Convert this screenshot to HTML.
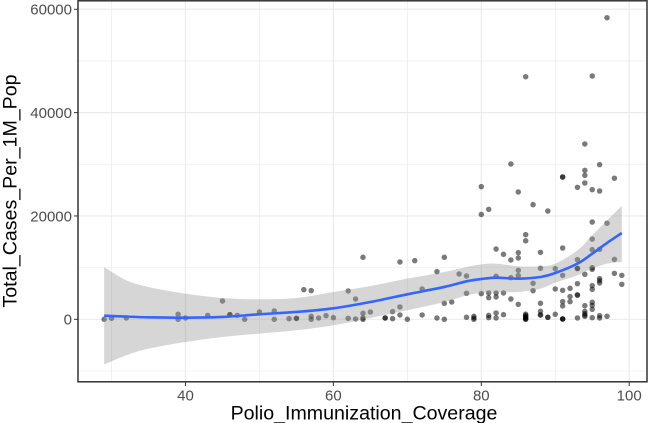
<!DOCTYPE html>
<html lang="en">
<head>
<meta charset="utf-8">
<title>Polio immunization coverage vs total cases</title>
<style>
html,body{margin:0;padding:0;background:#fff;width:648px;height:423px;overflow:hidden}
svg{display:block;font-family:"Liberation Sans",Arial,sans-serif}
</style>
</head>
<body>
<svg id="chart" width="648" height="423" viewBox="0 0 648 423" xmlns="http://www.w3.org/2000/svg">
  <g id="grid"></g>
  <g id="points"></g>
  <g id="smooth"></g>
  <rect x="78" y="0.8" width="569" height="381" fill="none" stroke="#333" stroke-width="1.5"/>
  <g id="axes"></g>
  <text x="364" y="419.5" font-size="19.6" text-anchor="middle" fill="#000">Polio_Immunization_Coverage</text>
  <text transform="translate(16.5,191) rotate(-90)" font-size="19.6" text-anchor="middle" fill="#000">Total_Cases_Per_1M_Pop</text>
</svg>
<script>
const xTickLabels = [40, 60, 80, 100];
const yTickLabels = [0, 20000, 40000, 60000];
const xMinorTicks = [30, 50, 70, 90];
const yMinorTicks = [-10000, 10000, 30000, 50000];

const pointX = [29,30,32,39,39,40,43,45,46,46,47,48,50,52,52,54,55,55,56,57,57,57,58,59,60,62,62,63,63,64,64,64,64,65,67,67,68,68,69,69,69,70,71,72,72,74,74,75,75,75,76,77,78,78,78,79,79,79,80,80,80,81,81,81,81,81,82,82,82,82,82,82,83,83,83,84,84,84,84,85,85,85,85,85,85,86,86,86,86,86,86,86,86,86,86,86,87,87,87,88,88,88,88,88,88,89,89,89,90,90,90,91,91,91,91,91,91,91,91,91,91,92,92,92,93,93,93,93,93,93,93,93,94,94,94,94,94,94,94,94,94,94,95,95,95,95,95,95,95,95,95,95,95,95,95,96,96,96,96,96,96,96,96,97,97,97,98,98,98,99,99];
const pointY = [0,190,260,970,0,260,770,3550,900,900,770,0,1420,1610,0,130,190,190,5740,5550,580,0,260,700,320,5480,190,3930,60,12000,1160,260,0,1420,260,260,1480,130,11100,2390,840,0,11350,5870,840,9220,260,12000,3100,0,3350,8770,8380,5030,390,580,260,0,20300,25670,4970,21280,5100,4190,770,320,13600,8320,5100,4320,1220,260,12580,5100,900,30060,11480,8060,3930,24640,12900,11870,9480,8450,2900,46950,16380,15200,1000,800,600,450,300,150,60,0,22190,6970,5550,12960,9870,3100,1550,840,840,20960,390,390,9800,5870,970,27540,27540,13800,8510,5600,3420,2580,60,60,60,6000,4390,3420,25540,11550,9870,9800,6900,4700,4700,260,33930,28830,27860,26380,8700,2640,1550,1100,800,580,47085,25090,18830,15540,13480,10000,9670,6510,5800,3290,2700,1935,320,29930,24830,13540,7870,7480,7030,700,260,58370,18600,580,27300,11600,8900,8510,6770];

const fitX = [29,32,35,40,45,50,55,60,65,70,75,78,80,82,85,88,90,93,95,97,99];
const fitY = [700,520,390,320,450,970,1420,2130,3350,4840,6260,7350,7800,8060,7870,8190,8960,10770,12700,14770,16700];
const ciUpper = [10130,7550,6260,4970,4130,3870,4130,5290,6450,7870,9160,10130,10640,10770,10250,10250,10770,13350,16250,19150,21930];
const ciLower = [-8770,-6970,-5680,-4390,-3420,-2770,-2130,-1160,260,1740,3350,4640,5100,5290,5290,5930,7100,8510,9800,10770,11100];

const NS = 'http://www.w3.org/2000/svg';
function sx(v){ return 333.4 + (v - 60) * 7.395; }
function sy(v){ return 319.3 - v * 0.005167; }
function make(tag, attrs, parent){
  const el = document.createElementNS(NS, tag);
  for (const k in attrs) el.setAttribute(k, attrs[k]);
  parent.appendChild(el);
  return el;
}
function smoothPath(xs, ys){
  const p = xs.map((x, i) => [sx(x), sy(ys[i])]);
  let d = 'M' + p[0][0].toFixed(2) + ',' + p[0][1].toFixed(2);
  for (let i = 0; i < p.length - 1; i++){
    const a = p[Math.max(i - 1, 0)], b = p[i], c = p[i + 1], e = p[Math.min(i + 2, p.length - 1)];
    const c1x = b[0] + (c[0] - a[0]) / 6, c1y = b[1] + (c[1] - a[1]) / 6;
    const c2x = c[0] - (e[0] - b[0]) / 6, c2y = c[1] - (e[1] - b[1]) / 6;
    d += 'C' + c1x.toFixed(2) + ',' + c1y.toFixed(2) + ' ' + c2x.toFixed(2) + ',' + c2y.toFixed(2) + ' ' + c[0].toFixed(2) + ',' + c[1].toFixed(2);
  }
  return d;
}

const grid = document.getElementById('grid');
xMinorTicks.forEach(v => {
  const l = make('line', {x1: sx(v), x2: sx(v), y1: 1, y2: 382, stroke: '#ececec', 'stroke-width': 0.8}, grid);
  
  
});
yMinorTicks.forEach(v => {
  const l = make('line', {x1: 78, x2: 647, y1: sy(v), y2: sy(v), stroke: '#f0f0f0', 'stroke-width': 0.8}, grid);
  
  
});
xTickLabels.forEach(v => {
  const l = make('line', {x1: sx(v), x2: sx(v), y1: 1, y2: 382, stroke: '#ebebeb', 'stroke-width': 1.2}, grid);
  
  
});
yTickLabels.forEach(v => {
  const l = make('line', {x1: 78, x2: 647, y1: sy(v), y2: sy(v), stroke: '#ebebeb', 'stroke-width': 1.2}, grid);
  
  
});

const points = document.getElementById('points');
pointX.forEach((x, i) => {
  const c = make('circle', {cx: sx(x), cy: sy(pointY[i]), r: 2.75, fill: '#000', 'fill-opacity': 0.52}, points);
  
  
});

const smooth = document.getElementById('smooth');
const upperD = smoothPath(fitX, ciUpper);
const lowerD = smoothPath(fitX.slice().reverse(), ciLower.slice().reverse());
const ribbon = make('path', {d: upperD + 'L' + lowerD.slice(1) + 'Z', fill: '#999', 'fill-opacity': 0.4}, smooth);


const fitLine = make('path', {d: smoothPath(fitX, fitY), fill: 'none', stroke: '#3366ff', 'stroke-width': 2.6}, smooth);



const axes = document.getElementById('axes');
xTickLabels.forEach(v => {
  const t = make('line', {x1: sx(v), x2: sx(v), y1: 382, y2: 386, stroke: '#333', 'stroke-width': 1}, axes);
  
  
  const s = make('text', {x: sx(v), y: 400.5, 'font-size': 15, fill: '#4d4d4d', 'text-anchor': 'middle'}, axes);
  
  
  s.textContent = v;
});
yTickLabels.forEach(v => {
  const t = make('line', {x1: 74, x2: 78, y1: sy(v), y2: sy(v), stroke: '#333', 'stroke-width': 1}, axes);
  
  
  const s = make('text', {x: 72, y: sy(v) + 5.3, 'font-size': 15, fill: '#4d4d4d', 'text-anchor': 'end'}, axes);
  
  
  s.textContent = v;
});
</script>
</body>
</html>
